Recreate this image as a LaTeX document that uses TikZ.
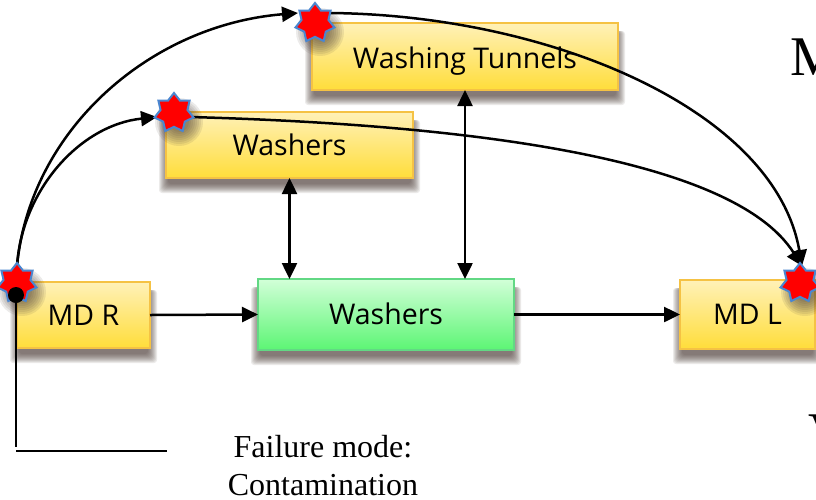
\documentclass[tikz,border=0pt]{standalone}
\usepackage{fontspec}
\setmainfont{Liberation Serif}
\newfontfamily\boxfont{Open Sans}
\usetikzlibrary{arrows.meta,shapes.geometric}
\tikzset{
  x=1pt,y=-1pt,
  boxbase/.style={draw,line width=1.6pt,inner sep=0pt,outer sep=0pt,font=\boxfont\fontsize{28.5}{30}\selectfont,text=black,text height=20pt,text depth=0pt},
  yellowbox/.style={boxbase,draw=yborder,top color=ytop,bottom color=ybot},
  greenbox/.style={boxbase,draw=gborder,top color=gtop,bottom color=gbot},
  redstar/.style={star,star points=7,star point ratio=1.45,minimum size=40pt,inner sep=0pt,outer sep=0pt,fill=red,draw=starblue,line width=2pt},
  link/.style={line width=2.5pt,draw=black},
  tip/.style={-{Triangle[length=16pt,width=15pt]},link},
  both/.style={{Triangle[length=16pt,width=15pt]}-{Triangle[length=16pt,width=15pt]},link},
  bigletter/.style={font=\fontsize{56}{60}\selectfont,inner sep=0pt,outer sep=0pt,anchor=base west}
}
\definecolor{yborder}{HTML}{F5C244}
\definecolor{ytop}{HTML}{FFF1B8}
\definecolor{ybot}{HTML}{FFDD3A}
\definecolor{gborder}{HTML}{62D884}
\definecolor{gtop}{HTML}{D2FFD8}
\definecolor{gbot}{HTML}{5CF574}
\definecolor{starblue}{HTML}{4A86D0}
\definecolor{shadowc}{HTML}{4A3C34}
\newcommand{\softshadow}[4]{%
  \foreach \e in {7,6,5,4,3,2,1,0,-1,-2}{%
    \fill[shadowc,opacity=0.1,rounded corners=3pt]
      (#1-\e,#2+8) rectangle (#3+\e,#4+\e+8);
  }}
\newcommand{\starshadow}[2]{%
  \foreach \e in {24,22,20,18,16,14,12,10}{%
    \fill[shadowc,opacity=0.1] (#1+5,#2+9) circle[radius=\e];
  }}
\begin{document}
\begin{tikzpicture}
\useasboundingbox (0,0) rectangle (816,499);
\clip (0,0) rectangle (816,499);
\fill[white] (0,0) rectangle (816,499);
% shadows
\softshadow{17}{282}{150}{348}
\softshadow{258}{279}{514}{350}
\softshadow{680}{280}{815}{349}
\softshadow{166}{112}{413}{178}
\softshadow{312}{23}{618}{90}
% boxes
\node[yellowbox,minimum width=133pt,minimum height=66pt] (mdr) at (83.5,315) {MD R};
\node[greenbox,minimum width=256pt,minimum height=71pt] (wash) at (386,314.5) {Washers};
\node[yellowbox,minimum width=135pt,minimum height=69pt] (mdl) at (747.5,314.5) {MD L};
\node[yellowbox,minimum width=247pt,minimum height=66pt] (washy) at (289.5,145) {Washers};
\node[yellowbox,minimum width=306pt,minimum height=67pt,text height=23pt] (tun) at (465,56.5) {Washing Tunnels};
% big clipped letters and label
\node[bigletter] (letm) at (790,75) {M};
\node[bigletter] (letv) at (808,451) {V};
\node[align=center,inner sep=0pt,font=\fontsize{32}{38}\selectfont] (fail) at (323,466) {Failure mode:\\Contamination};
% stars
\starshadow{17}{283}
\starshadow{315}{23}
\starshadow{174}{113}
\starshadow{800}{283}
% named free ends
\coordinate (tin) at (298,13);
\coordinate (wetin) at (157,117);
\coordinate (tout) at (330,13);
\coordinate (wout) at (190,117);
\coordinate (lin) at (802,266);
\coordinate (rtop) at (17,266);
\coordinate (vend) at (16,447);
\coordinate (hstart) at (16,451);
\coordinate (hend) at (167,451);
% connectors
\draw[tip] (mdr.east) -- (wash.west);
\draw[tip] (wash.east) -- (mdl.west);
\draw[both] (washy.south) -- (washy.south |- wash.north);
\draw[both] (tun.south) -- (tun.south |- wash.north);
\draw[tip] (rtop) .. controls (30,130) and (150,25) .. (tin);
\draw[tip] (rtop) .. controls (22,190) and (80,125) .. (wetin);
\draw[tip] (tout) .. controls (550,15) and (775,110) .. (lin);
\draw[tip] (wout) .. controls (480,125) and (735,160) .. (lin);
\node[redstar] (sr) at (17,283) {};
\node[redstar] (st) at (315,23) {};
\node[redstar] (sw) at (174,113) {};
\node[redstar] (sl) at (800,283) {};
% dot and leader
\fill[black] (16,295) circle[radius=8] coordinate (dot);
\draw[link] (dot) -- (vend);
\draw[link] (hstart) -- (hend);
\end{tikzpicture}
\end{document}
